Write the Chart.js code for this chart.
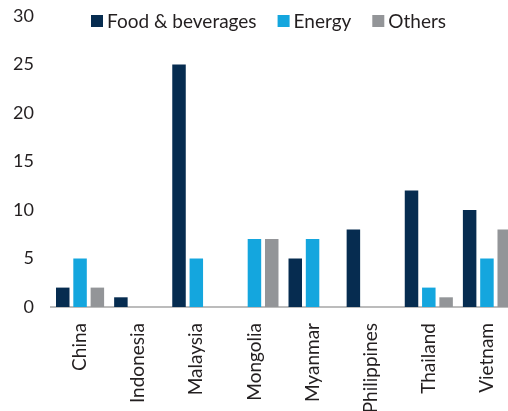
<!DOCTYPE html>
<html>
<head>
<meta charset="utf-8">
<script src="https://cdn.jsdelivr.net/npm/chart.js@4"></script>
<style>
  html, body { margin:0; padding:0; background:#fff; overflow:hidden; }
  #wrap { width:520px; height:411px; }
</style>
</head>
<body>
<div id="wrap"><canvas id="chart" width="520" height="411"></canvas></div>
<script>
const countries = ['China','Indonesia','Malaysia','Mongolia','Myanmar','Philippines','Thailand','Vietnam'];
const foodBev = [2, 1, 25, 0, 5, 8, 12, 10];
const energy  = [5, 0, 5, 7, 7, 0, 2, 5];
const others  = [2, 0, 0, 7, 0, 0, 1, 8];
const yTicks  = [0, 5, 10, 15, 20, 25, 30];

const FONT = 'Lato, "Open Sans", sans-serif';
const colors = { food:'#062c50', energy:'#14a6de', others:'#939598' };

// legend sits inside the plot, top-left, drawn by hand
const topLegend = {
  id:'topLegend',
  afterDraw(chart){
    const ctx = chart.ctx;
    ctx.save();
    ctx.font = `19px ${FONT}`;
    ctx.textBaseline = 'middle';
    let x = 91;
    const y = 21;
    chart.data.datasets.forEach(ds => {
      ctx.fillStyle = ds.backgroundColor;
      ctx.fillRect(x, y - 6, 12, 12);
      x += 16;
      ctx.fillStyle = '#231f20';
      ctx.fillText(ds.label, x, y + 1);
      x += ctx.measureText(ds.label).width + 21;
    });
    ctx.restore();
  }
};

const bar = (label, data, color) => ({
  label, data, backgroundColor:color, borderWidth:0,
  categoryPercentage:0.893, barPercentage:0.78
});

new Chart(document.getElementById('chart'), {
  type:'bar',
  data:{
    labels:countries,
    datasets:[
      bar('Food & beverages', foodBev, colors.food),
      bar('Energy', energy, colors.energy),
      bar('Others', others, colors.others)
    ]
  },
  options:{
    responsive:false,
    animation:false,
    layout:{ padding:{ top:16, right:4, left:0, bottom:0 } },
    plugins:{ legend:{ display:false }, tooltip:{ enabled:false } },
    scales:{
      x:{
        grid:{ display:false, drawTicks:false },
        border:{ color:'#bcbcbc', width:2 },
        ticks:{ color:'#231f20', font:{ family:FONT, size:19 }, minRotation:90, maxRotation:90, padding:16, autoSkip:false },
        afterFit(s){ s.height = 104; s.paddingLeft = 0; s.paddingRight = 0; s.paddingTop = 0; s.paddingBottom = 0; }
      },
      y:{
        min:0, max:30,
        grid:{ display:false, drawTicks:false },
        border:{ display:false },
        afterBuildTicks(s){ s.ticks = yTicks.map(v => ({ value:v })); },
        ticks:{ color:'#231f20', font:{ family:FONT, size:18 }, padding:17 },
        afterFit(s){ s.width = 51; s.paddingTop = 0; s.paddingBottom = 0; }
      }
    }
  },
  plugins:[topLegend]
});
</script>
</body>
</html>
